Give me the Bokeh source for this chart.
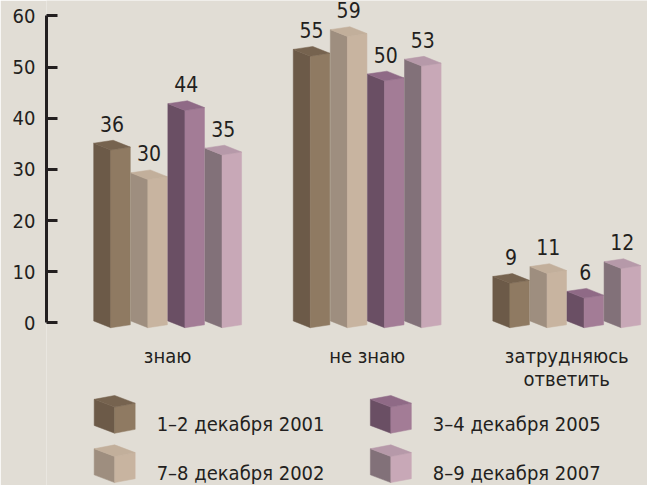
from bokeh.plotting import figure
from bokeh.models import Range1d, LinearAxis, FixedTicker
from bokeh.core.properties import value
from bokeh.embed import file_html
from bokeh.resources import INLINE

# ---------------- data ----------------
categories = ["знаю", "не знаю", "затрудняюсь\nответить"]
series = ["1–2 декабря 2001", "7–8 декабря 2002", "3–4 декабря 2005", "8–9 декабря 2007"]
v2001 = [36, 55, 9]
v2002 = [30, 59, 11]
v2005 = [44, 50, 6]
v2007 = [35, 53, 12]
y_ticks = [0, 10, 20, 30, 40, 50, 60]

# ---------------- style ----------------
front_colors = ["#8f7a62", "#c8b4a0", "#a37c96", "#c8a8b7"]
side_colors = ["#6c5a48", "#9e8e7f", "#6a4f64", "#827179"]
top_colors = ["#76634f", "#c2af9b", "#8f6a86", "#b699a9"]
BG = "#e1ddd5"
TEXT = "#231f20"
FONT = "DejaVu Sans Condensed, Roboto"

W, H = 647, 485
REF_W, REF_H = 663, 501
SX, SY = W / REF_W, H / REF_H
# layout in reference pixels
AX_X = 47
AX_Y0, AX_Y60 = 333, 16
BASE = 338
BPX = 5.1
G0, GS = 180, 204.5
PITCH, FW, DX, DY, TILT = 38, 20, -17.5, 7, 3

FL = round(AX_X * SX)
ax_ppu = (AX_Y0 - AX_Y60) / 60.0
p = figure(width=W, height=H,
           x_range=Range1d((FL / SX - G0) / GS, (REF_W - G0) / GS),
           y_range=Range1d((AX_Y0 - REF_H) / ax_ppu, AX_Y0 / ax_ppu),
           output_backend="svg", toolbar_location=None,
           x_axis_location=None, y_axis_location=None,
           min_border_left=FL, min_border_right=0,
           min_border_top=0, min_border_bottom=0)
p.extra_y_ranges = {"bars": Range1d((BASE - REF_H) / BPX, BASE / BPX)}
p.background_fill_color = BG
p.border_fill_color = BG
p.outline_line_color = None
p.xgrid.visible = False
p.ygrid.visible = False

axis = LinearAxis(ticker=FixedTicker(ticks=y_ticks), bounds=(0, 60),
                  axis_line_width=3, axis_line_color=TEXT,
                  major_tick_in=11, major_tick_out=0, major_tick_line_width=3,
                  major_tick_line_color=TEXT, minor_tick_line_color=None,
                  major_label_text_font_size="20px", major_label_standoff=11,
                  major_label_text_font=FONT, major_label_text_color=TEXT)
p.add_layout(axis, "left")

dx = DX / GS
dy = DY / BPX
t = TILT / BPX


def px_x(px):
    return (px - G0) / GS


def px_y(py):
    return (BASE - py) / BPX


all_vals = [v2001, v2002, v2005, v2007]
xs, ys, cols = [], [], []
lx, ly, lt = [], [], []
for i in range(len(categories)):
    for j, vals in enumerate(all_vals):
        v = vals[i]
        xc = i + (j - 1.5) * PITCH / GS
        xl = xc - FW / 2 / GS
        xr = xc + FW / 2 / GS
        xs.append([xl + dx, xl, xl, xl + dx]); ys.append([dy, 0, v, v + dy]); cols.append(side_colors[j])
        xs.append([xl, xr, xr, xl]); ys.append([0, t, v + t, v]); cols.append(front_colors[j])
        xs.append([xl, xr, xr + dx, xl + dx]); ys.append([v, v + t, v + t + dy, v + dy]); cols.append(top_colors[j])
        lx.append(xc + dx / 2)
        ly.append(v + dy + 20 / BPX)
        lt.append(str(v))

p.patches(xs, ys, fill_color=cols, line_color=cols, line_width=0.5, y_range_name="bars")
p.text(lx, ly, text=lt, y_range_name="bars", text_align="center", text_baseline="middle",
       text_font=value(FONT), text_font_size="21px", text_color=TEXT)

cx, cy, ct = [], [], []
for i, c in enumerate(categories):
    for k, line in enumerate(c.split("\n")):
        cx.append(i + dx / 2)
        cy.append(px_y(367 + 24 * k))
        ct.append(line)
p.text(cx, cy, text=ct, y_range_name="bars", text_align="center", text_baseline="middle",
       text_font=value(FONT), text_font_size="20px", text_color=TEXT)

leg_pos = [(117, 420), (117, 471), (400, 420), (400, 471)]
CW, CH, CDX, CDY, CT = 21, 27, -21, 8, 4
gx, gy, gc = [], [], []
tx, ty, tt = [], [], []
for j, name in enumerate(series):
    fx, fy = leg_pos[j]
    x0, x1 = px_x(fx), px_x(fx + CW)
    y0, y1 = px_y(fy + CH), px_y(fy)
    ddx = CDX / GS
    ddy = CDY / BPX
    tt_ = CT / BPX
    gx.append([x0 + ddx, x0, x0, x0 + ddx]); gy.append([y0 + ddy, y0, y1, y1 + ddy]); gc.append(side_colors[j])
    gx.append([x0, x1, x1, x0]); gy.append([y0, y0 + tt_, y1 + tt_, y1]); gc.append(front_colors[j])
    gx.append([x0, x1, x1 + ddx, x0 + ddx]); gy.append([y1, y1 + tt_, y1 + tt_ + ddy, y1 + ddy]); gc.append(top_colors[j])
    tx.append(px_x(fx + 43))
    ty.append(px_y(fy + 17))
    tt.append(name)
p.patches(gx, gy, fill_color=gc, line_color=gc, line_width=0.5, y_range_name="bars")
p.text(tx, ty, text=tt, y_range_name="bars", text_align="left", text_baseline="middle",
       text_font=value(FONT), text_font_size="20px", text_color=TEXT)

html = file_html(p, INLINE)
html = html.replace("<body>", '<body style="margin:8px;background:%s;">' % BG, 1)
open("out.html", "w").write(html)
